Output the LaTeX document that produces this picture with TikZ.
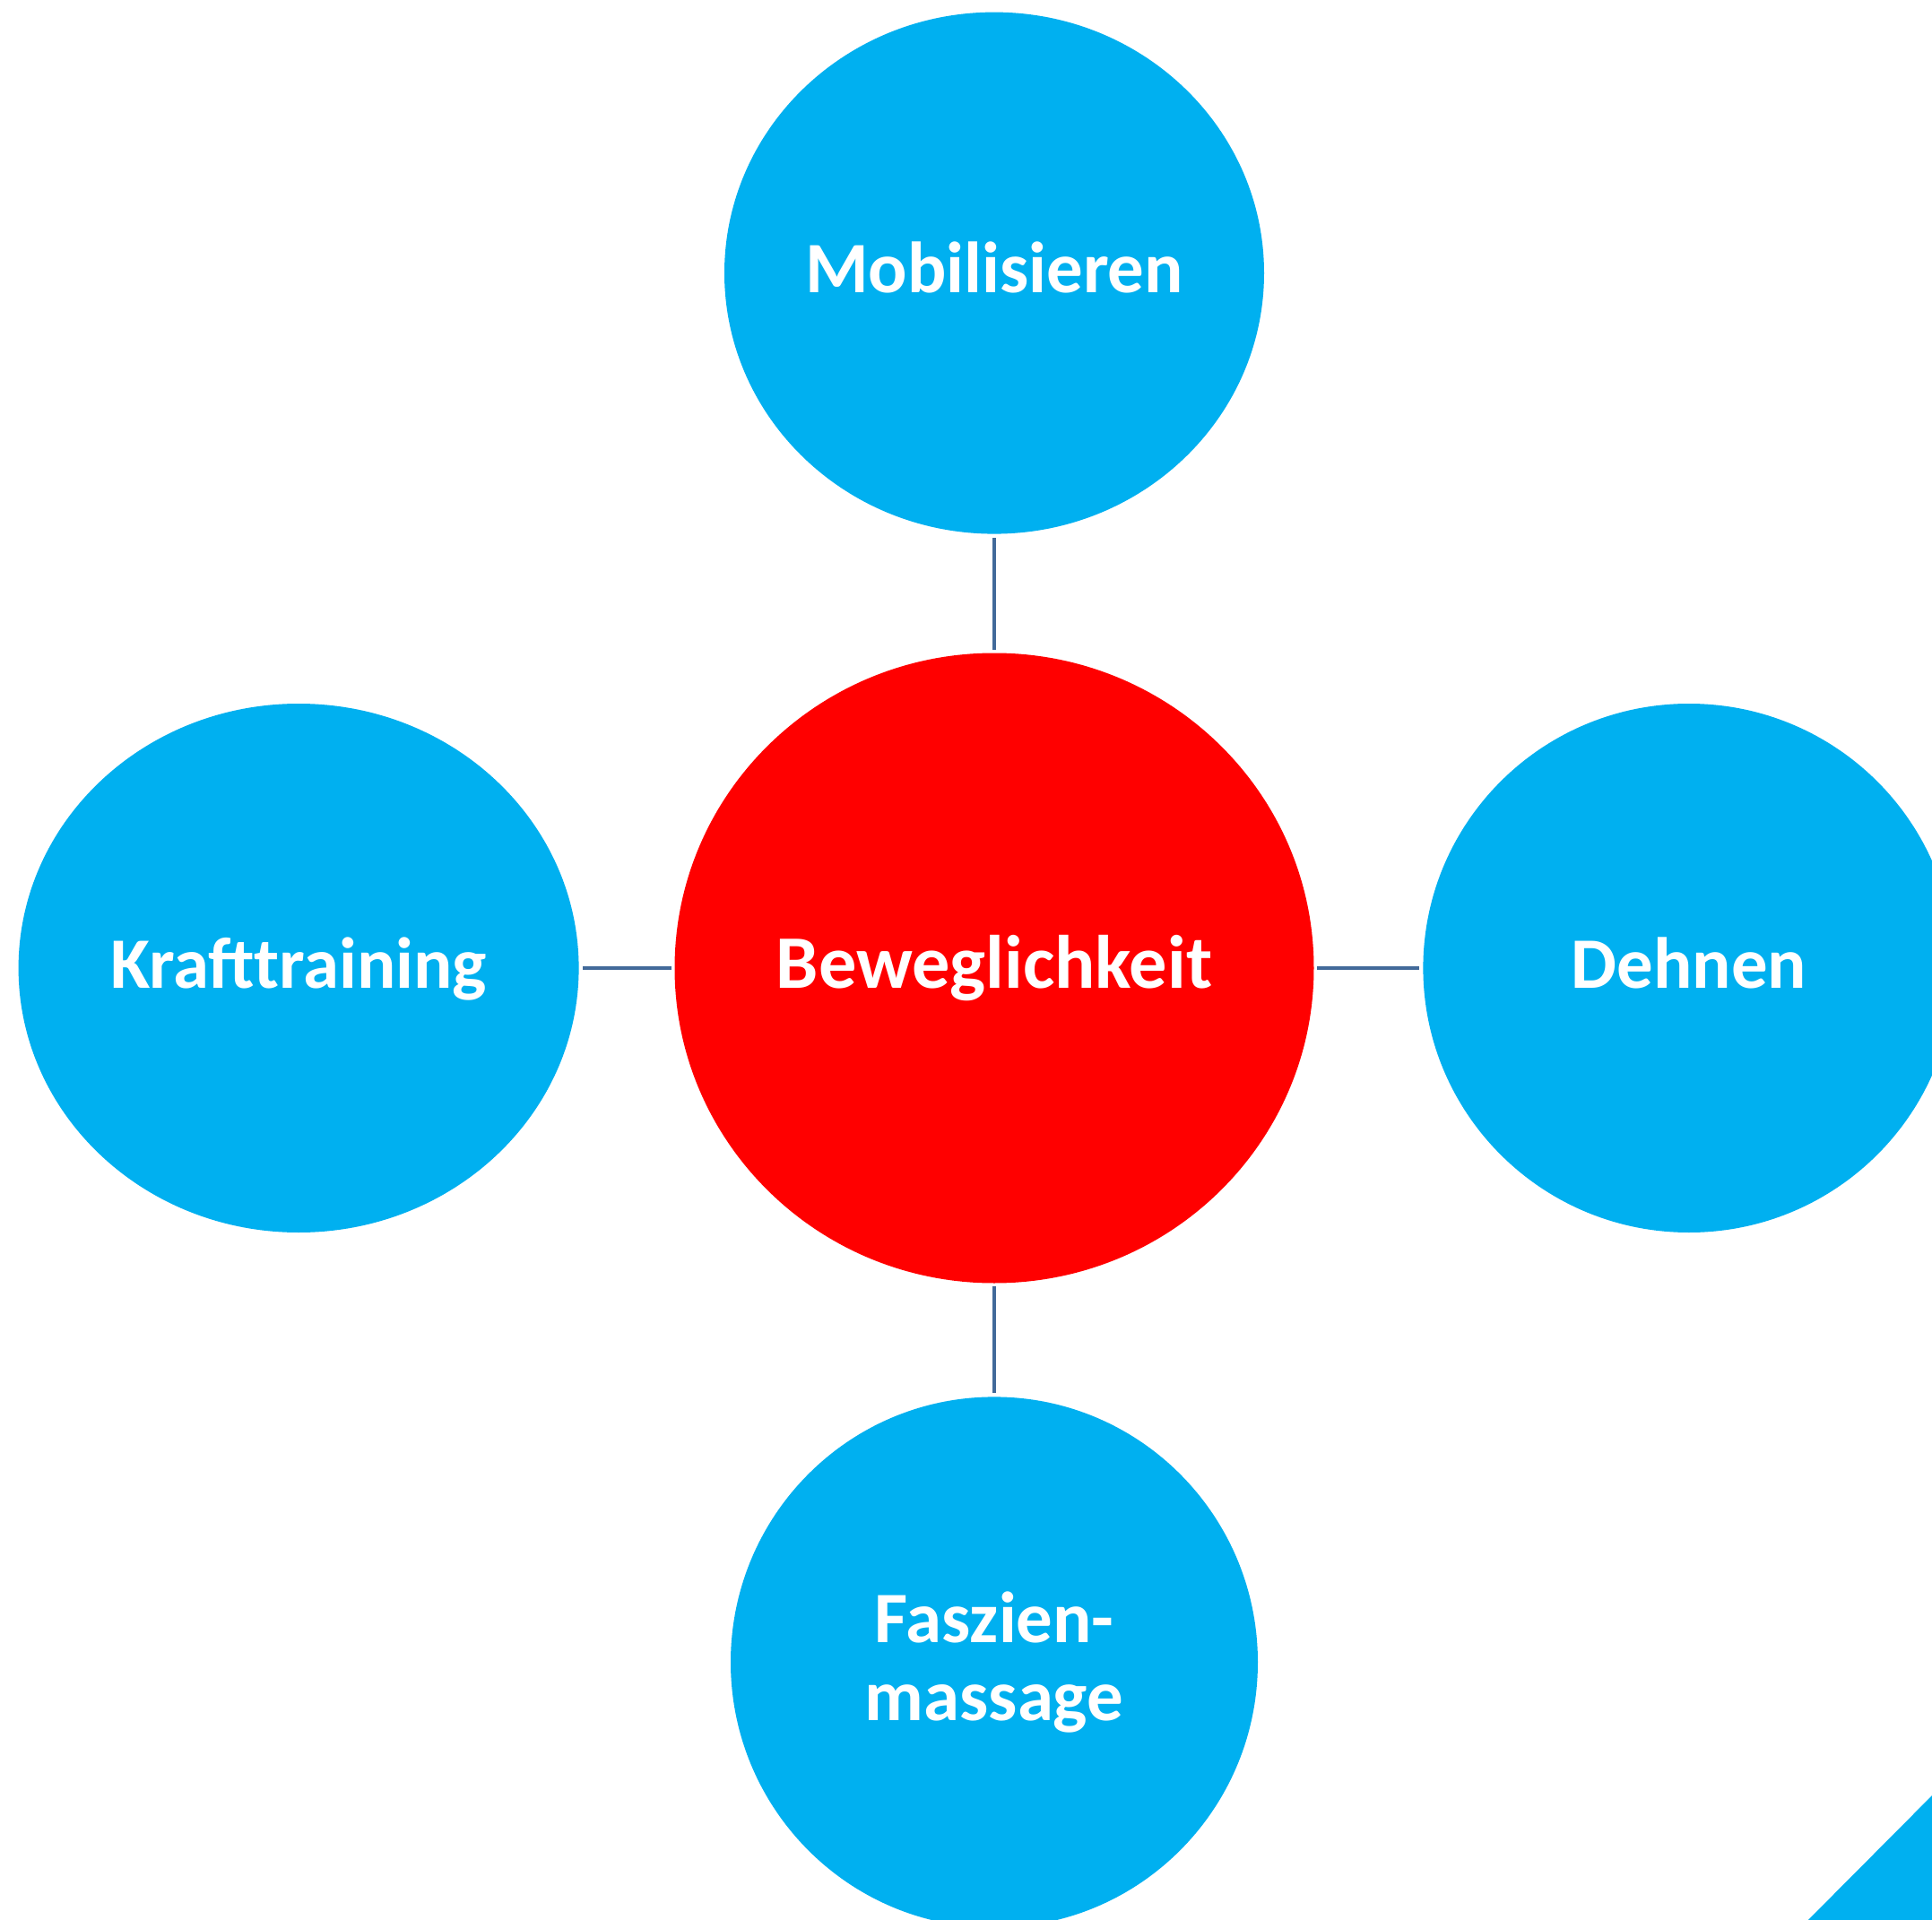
\documentclass[tikz,border=0pt]{standalone}
\usepackage{fontspec}
\setmainfont{Carlito}
\usepackage{tikz}
\usetikzlibrary{positioning, shapes.geometric}
\definecolor{topicblue}{HTML}{00B0F0}
\definecolor{linkblue}{HTML}{426A9A}
\tikzstyle{bubble}=[ellipse, fill=topicblue, inner sep=0pt, text=white, align=center, font=\bfseries\fontsize{23}{24.75}\selectfont]
\tikzstyle{topic}=[bubble, text height=0.66cm, text depth=0.22cm]
\tikzstyle{core}=[topic, fill=red, font=\bfseries\fontsize{24}{28.8}\selectfont]
\tikzstyle{link}=[draw=linkblue, line width=1.4pt, shorten <=0.04cm, shorten >=0.03cm]

\begin{document}
\begin{tikzpicture}
          \useasboundingbox (0,0) rectangle (21.55,-21.42);
          \node[core] (beweg) at (11.09,-10.80) [minimum width=7.13cm, minimum height=7.03cm] {Beweglichkeit};

          \node[topic] (mobil) [above=1.315cm of beweg, minimum width=6.02cm, minimum height=5.82cm] {Mobilisieren}
                edge [link] (beweg);
          \node[topic] (kraft) [left=1.055cm of beweg, minimum width=6.25cm, minimum height=5.90cm] {Krafttraining}
                edge [link] (beweg);
          \node[topic] (dehnen) [right=1.205cm of beweg, minimum width=5.93cm, minimum height=5.90cm] {Dehnen}
                edge [link] (beweg);
          \node[bubble] (faszien) [below=1.255cm of beweg, minimum width=5.88cm, minimum height=5.92cm] {Faszien-\\massage}
                edge [link] (beweg);

          % corner piece, cut by the page edge
          \fill[topicblue] (21.75,-19.83) -- (19.97,-21.62) -- (21.75,-21.62) -- cycle;
        \end{tikzpicture}
\end{document}
